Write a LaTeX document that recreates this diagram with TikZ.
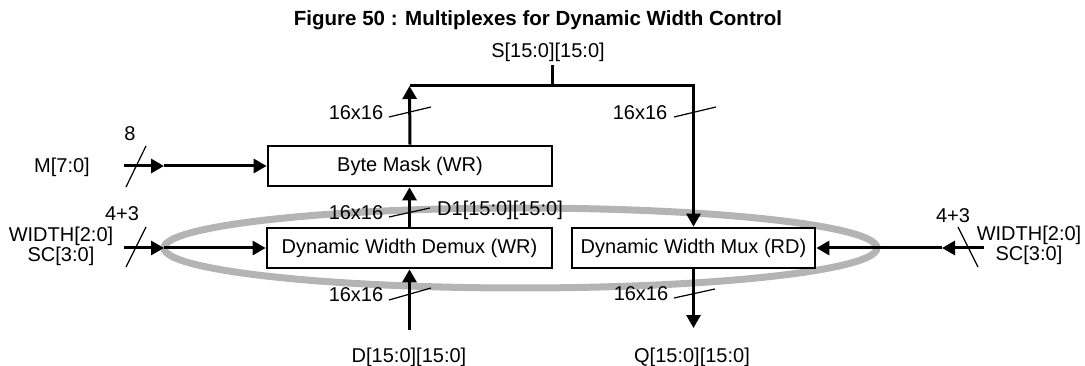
\documentclass[tikz,border=0pt]{standalone}
\usepackage{fontspec}
\setmainfont{Liberation Sans}
\usetikzlibrary{arrows.meta}
\definecolor{ring}{RGB}{180,180,180}
\begin{document}
\begin{tikzpicture}[x=1pt,y=-1pt,
  lbl/.style={inner sep=0pt, font=\fontsize{20}{20}\selectfont},
  box/.style={draw, line width=2.7pt, minimum height=40pt, inner sep=0pt, lbl},
  wire/.style={line width=3pt},
  arr/.style={wire, -{Triangle[length=13pt,width=14pt]}},
  tick/.style={line width=1.2pt},
  ringline/.style={draw=ring, line width=7pt}]
\useasboundingbox (0,0) rectangle (1085,366);

% background ring
\draw[ringline] (520.5,248) ellipse [x radius=356.5, y radius=40];

% title
\node[inner sep=0pt, font=\bfseries\fontsize{20.5}{22}\selectfont] (title) at (538,20) {Figure 50 : Multiplexes for Dynamic Width Control};

% boxes
\node[box, minimum width=284pt] (bm) at (410,166) {Byte Mask (WR)};
\node[box, minimum width=285pt] (dmx) at (409.5,248) {Dynamic Width Demux (WR)};
\node[box, minimum width=243pt] (mux) at (693.5,248) {Dynamic Width Mux (RD)};

% signal labels
\node[lbl] (slbl) at (548,52) {S[15:0][15:0]};
\node[lbl] (dlbl) at (409,357) {D[15:0][15:0]};
\node[lbl] (qlbl) at (692,357) {Q[15:0][15:0]};
\node[lbl] (mlbl) at (62,167) {M[7:0]};
\node[lbl] (n8) at (130,134) {8};
\node[lbl] (n43l) at (122,214) {4+3};
\node[lbl] (n43r) at (953,216) {4+3};
\node[lbl, align=center] (wl) at (61,246) {WIDTH[2:0]\\SC[3:0]};
\node[lbl, align=center] (wr) at (1029,245) {WIDTH[2:0]\\SC[3:0]};
\node[lbl] (w1) at (356,113) {16x16};
\node[lbl] (w2) at (640,113) {16x16};
\node[lbl] (w3) at (356,213) {16x16};
\node[lbl] (w4) at (356,295) {16x16};
\node[lbl] (w5) at (641,294) {16x16};
\node[lbl, anchor=west] (d1) at (437,210) {D1[15:0][15:0]};

% junction coordinates
\coordinate (tl) at (409.5,86);
\coordinate (tr) at (693.5,86);
\coordinate (sj) at (552,86);
\coordinate (stop) at (552,65);
\coordinate (din) at (409.5,330);
\coordinate (qout) at (693.5,328);
\coordinate (ms) at (124,166);
\coordinate (mm) at (164,166);
\coordinate (wls) at (124,248);
\coordinate (wlm) at (164,248);
\coordinate (wrs) at (984,248);
\coordinate (wrm) at (942,248);

% connectors
\draw[wire] (stop) -- (sj);
\draw[arr] (bm.north) -- (tl);
\draw[arr] (tl) -- (tr) -- (mux.north);
\draw[arr] (dmx.north) -- (dmx.north |- bm.south);
\draw[arr] (din) -- (dmx.south);
\draw[arr] (mux.south) -- (qout);
\draw[arr] (ms) -- (mm);
\draw[arr] (mm) -- (bm.west);
\draw[arr] (wls) -- (wlm);
\draw[arr] (wlm) -- (dmx.west);
\draw[arr] (wrs) -- (wrm);
\draw[arr] (wrm) -- (mux.east);

% bus-width ticks
\draw[tick] (126,187) -- (146,146);
\draw[tick] (126,267) -- (146,227);
\draw[tick] (958,227) -- (978,267);
\draw[tick] (389,117) -- (431,107);
\draw[tick] (674,117) -- (716,107);
\draw[tick] (389,217) -- (430,208);
\draw[tick] (389,300) -- (431,288);
\draw[tick] (674,298) -- (715,289);
\end{tikzpicture}
\end{document}
